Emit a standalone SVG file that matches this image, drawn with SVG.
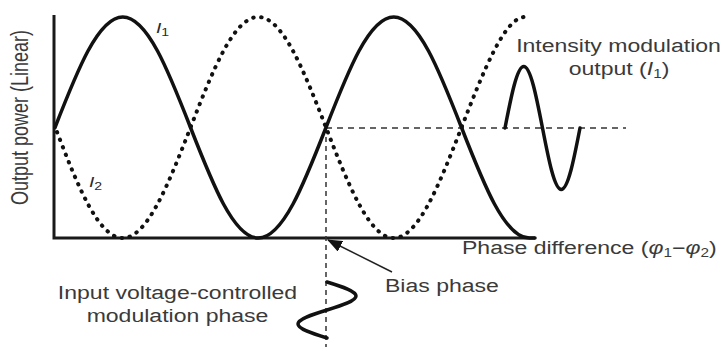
<svg xmlns="http://www.w3.org/2000/svg" width="727" height="347" viewBox="0 0 727 347">
  <style>
    .t { font-family: "Liberation Sans", Arial, sans-serif; font-size: 18px; fill: #3a3a3a; }
    .lab { font-family: "Liberation Sans", Arial, sans-serif; font-size: 15px; fill: #2a2a2a; font-style: italic; }
    .sub { font-size: 11px; font-style: normal; }
    .axis { stroke: #1a1a1a; stroke-width: 3; fill: none; }
    .solid { stroke: #111; stroke-width: 3.5; fill: none; stroke-linecap: round; }
    .dotted { stroke: #111; stroke-width: 4; fill: none; stroke-linecap: round; stroke-dasharray: 0.5 7.5; }
    .dash { stroke: #333; stroke-width: 1.5; fill: none; }
  </style>
  <defs>
    <marker id="arr" markerWidth="16" markerHeight="12" refX="14" refY="6" orient="auto" markerUnits="userSpaceOnUse">
      <path d="M0,0 L15,6 L0,12 Z" fill="#111"/>
    </marker>
  </defs>
  <rect width="727" height="347" fill="#fff"/>

  <g id="axes">
    <path class="axis" d="M54,15 L54,238 L535,238"/>
  </g>

  <g id="guides">
    <path class="dash" d="M326,128 L626,128" stroke-dasharray="6 5"/>
    <path class="dash" d="M326,128 L326,347" stroke-dasharray="5 4"/>
  </g>

  <g id="curve-I1">
    <path class="solid" d="M55,127.5 C77.09,70.89 98.23,17 122.75,17 C147.27,17 168.41,70.89 190.5,127.5 C212.59,184.11 233.73,238 258.25,238 C282.77,238 303.91,184.11 326,127.5 C348.09,70.89 369.23,17 393.75,17 C418.27,17 439.41,70.89 461.5,127.5 C483.59,184.11 504.73,238 529.25,238 L535,238"/>
  </g>

  <g id="curve-I2">
    <path class="dotted" d="M57,132 C77.09,184.11 98.23,238 122.75,238 C147.27,238 168.41,184.11 190.5,127.5 C212.59,70.89 233.73,17 258.25,17 C282.77,17 303.91,70.89 326,127.5 C348.09,184.11 369.23,238 393.75,238 C418.27,238 439.41,184.11 461.5,127.5 C483.59,70.89 504.73,17 525,17"/>
  </g>

  <g id="output-wave">
    <path class="solid" stroke-width="4" d="M505,128 C511.11,96.5 516.96,66.5 523.75,66.5 C530.54,66.5 536.39,96.5 542.5,128 C548.61,159.5 554.46,189.5 561.25,189.5 C568.04,189.5 573.89,159.5 580,128"/>
  </g>

  <g id="input-wave">
    <path class="solid" stroke-width="3" d="M327,282 C341.86,286.57 356,290.93 356,296 C356,301.07 341.86,305.43 327,310 C312.14,314.57 298,318.93 298,324 C298,329.07 312.14,333.43 327,338"/>
  </g>

  <g id="bias-arrow">
    <path d="M392,272 L328,240" stroke="#222" stroke-width="1.5" fill="none" marker-end="url(#arr)"/>
  </g>

  <g id="labels">
    <text class="t" transform="translate(28,117.5) scale(1.28,1) rotate(-90)" text-anchor="middle">Output power (Linear)</text>
    <text class="lab" transform="translate(156,33) scale(1.28,1)">I<tspan class="sub" dy="3">1</tspan></text>
    <text class="lab" transform="translate(89,187) scale(1.28,1)">I<tspan class="sub" dy="3">2</tspan></text>
    <text class="t" transform="translate(618.5,52) scale(1.28,1)" text-anchor="middle">Intensity modulation</text>
    <text class="t" transform="translate(619,75) scale(1.28,1)" text-anchor="middle">output (<tspan font-style="italic">I</tspan><tspan font-size="12" dy="3">1</tspan><tspan dy="-3">)</tspan></text>
    <text class="t" transform="translate(462,254) scale(1.28,1)">Phase difference (<tspan font-style="italic">φ</tspan><tspan font-size="12" dy="3">1</tspan><tspan dy="-3">−</tspan><tspan font-style="italic">φ</tspan><tspan font-size="12" dy="3">2</tspan><tspan dy="-3">)</tspan></text>
    <text class="t" transform="translate(385,292) scale(1.28,1)">Bias phase</text>
    <text class="t" transform="translate(177.5,299) scale(1.28,1)" text-anchor="middle">Input voltage-controlled</text>
    <text class="t" transform="translate(177.5,322) scale(1.28,1)" text-anchor="middle">modulation phase</text>
  </g>
</svg>
